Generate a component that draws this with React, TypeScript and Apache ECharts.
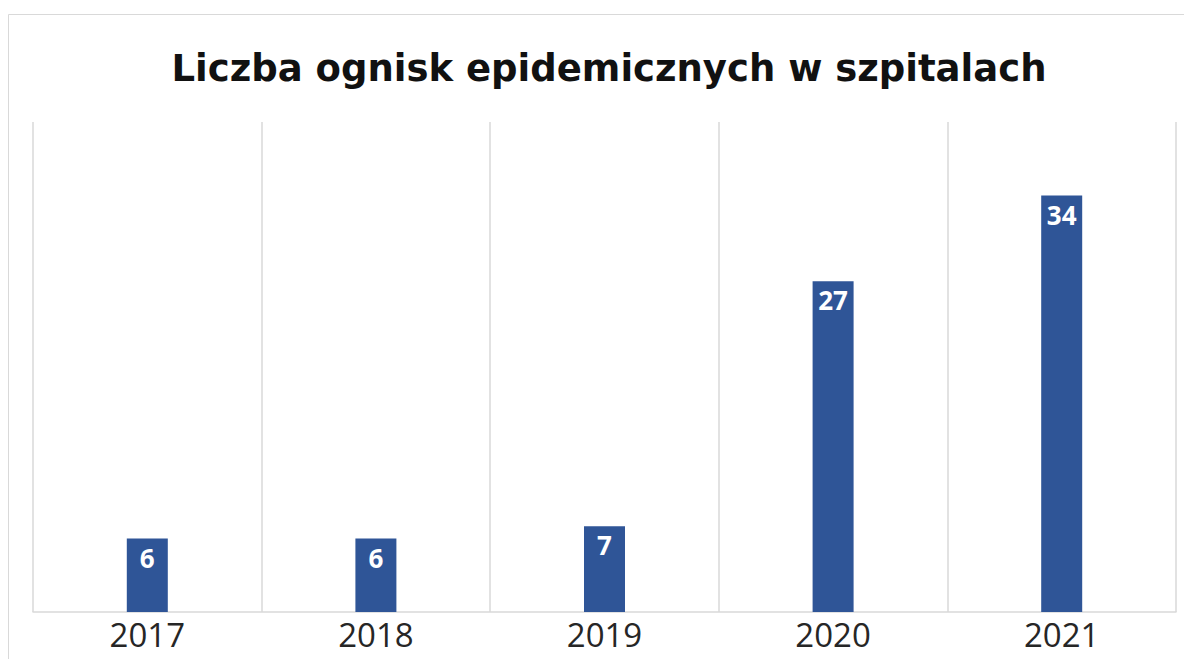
import React, { useEffect, useRef } from "react";
import * as echarts from "echarts";

const titleText = "Liczba ognisk epidemicznych w szpitalach";
const years = ["2017", "2018", "2019", "2020", "2021"];
const outbreaks = [6, 6, 7, 27, 34];

export default function App() {
  const ref = useRef<HTMLDivElement>(null);
  useEffect(() => {
    if (!ref.current) return;
    const chart = echarts.init(ref.current, undefined, { renderer: "svg" });
    chart.setOption({
      animation: false,
      backgroundColor: "#ffffff",
      title: {
        text: titleText,
        left: 604,
        textAlign: "center",
        top: 45,
        textStyle: {
          fontFamily: "DejaVu Sans",
          fontWeight: "bold",
          fontSize: 37,
          color: "#111111",
        },
      },
      graphic: [
        {
          type: "rect",
          shape: { x: 8.5, y: 14.5, width: 1200, height: 700 },
          style: { fill: "none", stroke: "#d9d9d9", lineWidth: 1 },
          silent: true,
          z: -1,
        },
      ],
      grid: { left: 33, right: 8, top: 122, bottom: 47 },
      xAxis: {
        type: "category",
        data: years,
        boundaryGap: true,
        axisLine: { show: true, lineStyle: { color: "#d9d9d9", width: 1.5 } },
        axisTick: { show: false },
        splitLine: { show: true, lineStyle: { color: "#d9d9d9", width: 1.5 } },
        axisLabel: {
          fontFamily: "Open Sans",
          fontSize: 33,
          color: "#262626",
          margin: 6,
        },
      },
      yAxis: {
        type: "value",
        min: 0,
        max: 40,
        show: false,
        splitLine: { show: false },
      },
      series: [
        {
          type: "bar",
          data: outbreaks,
          barWidth: 41,
          itemStyle: { color: "#2f5597" },
          label: {
            show: true,
            position: "insideTop",
            distance: 6,
            fontFamily: "Open Sans",
            fontWeight: "bold",
            fontSize: 26,
            color: "#ffffff",
          },
        },
      ],
    });
    return () => chart.dispose();
  }, []);
  return (
    <div
      ref={ref}
      style={{ position: "absolute", left: 0, top: 0, width: 1184, height: 659 }}
    />
  );
}
